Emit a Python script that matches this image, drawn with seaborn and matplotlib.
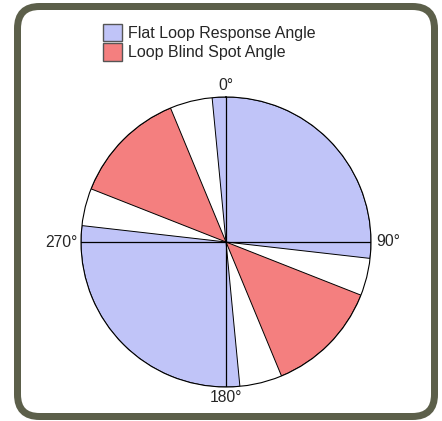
import numpy as np
import matplotlib
matplotlib.use("Agg")
import matplotlib.pyplot as plt
import seaborn as sns
from matplotlib.patches import Patch, FancyBboxPatch
from matplotlib.transforms import IdentityTransform

sns.set_style("white")
plt.rcParams['font.family'] = ['Liberation Sans', 'DejaVu Sans']

# Data (compass degrees, clockwise from north)
categories = ["Flat Loop Response Angle", "Loop Blind Spot Angle"]
response_start = [-5.5, 174.5]
response_end = [96.5, 276.5]
blind_start = [111.5, 291.5]
blind_end = [157.5, 337.5]
tick_angles = [0, 90, 180, 270]
tick_labels = ["0°", "90°", "180°", "270°"]

blue = "#c0c4f8"
red = "#f47f7f"

fig = plt.figure(figsize=(4.42, 4.21), dpi=100)
ax = fig.add_axes([81/442, 34/421, 290/442, 290/421], projection="polar")
ax.set_theta_zero_location("N")
ax.set_theta_direction(-1)

def wedges(starts, ends, color):
    s = np.array(starts, dtype=float)
    e = np.array(ends, dtype=float)
    mid = np.deg2rad((s + e) / 2)
    width = np.deg2rad(e - s)
    ax.bar(mid, np.ones_like(mid), width=width, bottom=0, align="center",
           color=color, edgecolor="black", linewidth=0.7, zorder=2)

wedges(response_start, response_end, blue)
wedges(blind_start, blind_end, red)

ax.set_ylim(0, 1)
ax.set_yticks([])
ax.set_thetagrids(tick_angles, [""] * len(tick_angles))
ax.xaxis.grid(True, color="black", linewidth=0.9)
ax.set_axisbelow(False)
for gl in ax.xaxis.get_gridlines():
    gl.set_zorder(3)
ax.spines["polar"].set_color("black")
ax.spines["polar"].set_linewidth(0.8)

# tick labels placed just outside the circle
label_offsets = {0: ((0, 11), "center", "center"),
                 90: ((5, 0), "left", "center"),
                 180: ((0, -11), "center", "center"),
                 270: ((-3, 0), "right", "center")}
for ang, lab in zip(tick_angles, tick_labels):
    off, ha, va = label_offsets[ang]
    ax.annotate(lab, xy=(np.deg2rad(ang), 1.0), xytext=off,
                textcoords="offset pixels", ha=ha, va=va, fontsize=11.3,
                annotation_clip=False)

handles = [Patch(facecolor=blue, edgecolor="#555555", label=categories[0]),
           Patch(facecolor=red, edgecolor="#555555", label=categories[1])]
fig.legend(handles=handles, loc="upper left", bbox_to_anchor=(103/442, 1 - 24/421),
           frameon=False, fontsize=11.5, handlelength=1.2, handleheight=1.3,
           handletextpad=0.35, labelspacing=0.12, borderaxespad=0, borderpad=0)

border = FancyBboxPatch((17.5, 4.5), 417, 410,
                        boxstyle="round,pad=0,rounding_size=22",
                        transform=IdentityTransform(), facecolor="none",
                        edgecolor="#5c5f4a", linewidth=7 * 72 / 100)
fig.patches.append(border)

fig.savefig("out.png", dpi=100)
